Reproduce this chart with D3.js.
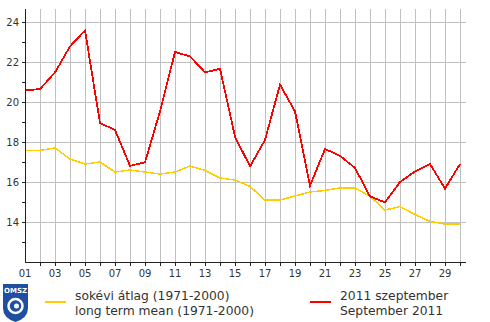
<!DOCTYPE html>
<html><head><meta charset="utf-8">
<script src="https://cdn.jsdelivr.net/npm/d3@7"></script>
<style>
html,body{margin:0;padding:0;background:#fff;}
svg{display:block;font-family:"DejaVu Sans",Verdana,sans-serif;}
</style></head>
<body>
<svg id="c" width="490" height="322"></svg>
<script>
const days = d3.range(1, 31);
const sept2011 = [20.58,20.65,21.48,22.78,23.58,18.95,18.6,16.81,16.98,19.53,22.5,22.28,21.48,21.66,18.27,16.78,18.1,20.87,19.53,15.82,17.65,17.31,16.7,15.28,14.98,16.0,16.53,16.9,15.67,16.9];
const longTerm = [17.58,17.58,17.7,17.15,16.9,17.0,16.5,16.6,16.5,16.4,16.5,16.8,16.58,16.2,16.1,15.78,15.1,15.1,15.3,15.5,15.58,15.7,15.7,15.28,14.6,14.77,14.37,14.03,13.9,13.9];
const yTickLabels = [14,16,18,20,22,24];
const xTickLabels = ["01","03","05","07","09","11","13","15","17","19","21","23","25","27","29"];
const legendHu = ["sokévi átlag (1971-2000)","2011 szeptember"];
const legendEn = ["long term mean (1971-2000)","September 2011"];

const svg = d3.select("#c");
const L=25, R=466, T=9, B=262;
const x = d3.scaleLinear().domain([1, 30.4]).range([L, R]);
const y = d3.scaleLinear().domain([12, 24.65]).range([B, T]);

// grid
const g = svg.append("g").attr("shape-rendering","crispEdges");
g.selectAll(".vg").data(days.slice(1)).enter().append("line")
  .attr("x1",d=>Math.round(x(d))+0.5).attr("x2",d=>Math.round(x(d))+0.5)
  .attr("y1",T).attr("y2",B).attr("stroke","#c0c0c0").attr("stroke-width",1);
g.selectAll(".hg").data(yTickLabels).enter().append("line")
  .attr("x1",L).attr("x2",R)
  .attr("y1",d=>Math.round(y(d))+0.5).attr("y2",d=>Math.round(y(d))+0.5)
  .attr("stroke","#c0c0c0").attr("stroke-width",1);

// lines
const line = d3.line().x((d,i)=>x(days[i])).y(d=>y(d));
svg.append("path").datum(longTerm).attr("d",line).attr("fill","none")
  .attr("stroke","#ffcc00").attr("stroke-width",1.5).attr("shape-rendering","crispEdges");
svg.append("path").datum(sept2011).attr("d",line).attr("fill","none")
  .attr("stroke","#ff0000").attr("stroke-width",1.8).attr("shape-rendering","crispEdges");

// axes
const ax = svg.append("g").attr("shape-rendering","crispEdges");
ax.append("line").attr("x1",L+0.5).attr("x2",L+0.5).attr("y1",T).attr("y2",B+0.5).attr("stroke","#222");
ax.append("line").attr("x1",L).attr("x2",R).attr("y1",B+0.5).attr("y2",B+0.5).attr("stroke","#222");
ax.selectAll(".yt").data(d3.range(13,25)).enter().append("line")
  .attr("x1",L-3).attr("x2",L).attr("y1",d=>Math.round(y(d))+0.5).attr("y2",d=>Math.round(y(d))+0.5).attr("stroke","#222");
ax.selectAll(".xt").data(days.slice(1)).enter().append("line")
  .attr("x1",d=>Math.round(x(d))+0.5).attr("x2",d=>Math.round(x(d))+0.5).attr("y1",B).attr("y2",B+4).attr("stroke","#222");

svg.selectAll(".yl").data(yTickLabels).enter().append("text")
  .attr("x",L-6).attr("y",d=>y(d)+3.5).attr("text-anchor","end")
  .attr("font-size",10).attr("fill","#333").text(d=>d);
svg.selectAll(".xl").data(xTickLabels).enter().append("text")
  .attr("x",d=>x(+d)).attr("y",B+15).attr("text-anchor","middle")
  .attr("font-size",10).attr("fill","#333").text(d=>d);

// legend
const lg = svg.append("g");
lg.append("line").attr("x1",45).attr("x2",66).attr("y1",302).attr("y2",302).attr("stroke","#ffcc00").attr("stroke-width",2);
lg.append("line").attr("x1",310).attr("x2",331).attr("y1",302).attr("y2",302).attr("stroke","#ff0000").attr("stroke-width",2);
[[75,0],[340,1]].forEach(([tx,i])=>{
  lg.append("text").attr("x",tx).attr("y",300).attr("font-size",12.3).attr("fill","#333").text(legendHu[i]);
  lg.append("text").attr("x",tx).attr("y",314.5).attr("font-size",12.3).attr("fill","#333").text(legendEn[i]);
});

// logo
const logo = svg.append("g").attr("transform","translate(3,284)");
logo.append("path").attr("d","M0,0 H25 V24 Q25,34 12.5,38 Q0,34 0,24 Z").attr("fill","#1f4fa3");
logo.append("text").attr("x",12.5).attr("y",8.5).attr("text-anchor","middle").attr("font-size",7).attr("font-weight","bold").attr("fill","#fff").text("OMSZ");
logo.append("circle").attr("cx",12.5).attr("cy",22).attr("r",7).attr("fill","none").attr("stroke","#fff").attr("stroke-width",2.5);
logo.append("circle").attr("cx",13.5).attr("cy",22).attr("r",2.5).attr("fill","#fff");
</script>
</body></html>
